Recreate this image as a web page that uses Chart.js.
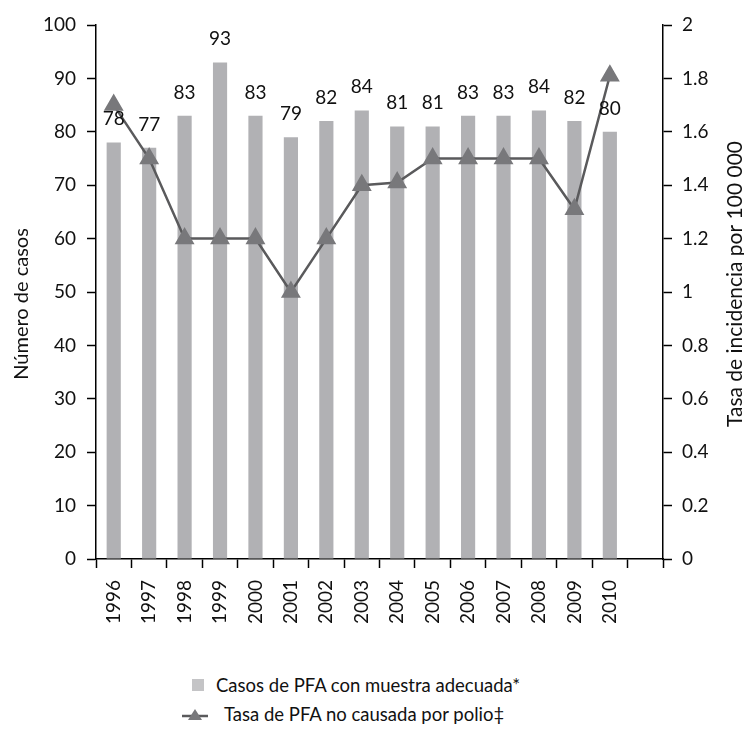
<!DOCTYPE html>
<html>
<head>
<meta charset="utf-8">
<script src="https://cdn.jsdelivr.net/npm/chart.js@4"></script>
<style>
  body { margin: 0; background: #fff; font-family: Lato, "Open Sans", sans-serif; }
  #wrap { position: relative; width: 744px; height: 730px; }
  #c { position: absolute; left: 0; top: 0; }
  .leg { position: absolute; font-size: 18.5px; color: #111; white-space: nowrap; }
  .sq { position: absolute; width: 12px; height: 12px; background: #c4c4c6; }
</style>
</head>
<body>
<div id="wrap">
  <canvas id="c" width="744" height="640"></canvas>
  <div class="sq" style="left:192px; top:679px;"></div>
  <div class="leg" style="left:216px; top:674px;">Casos de PFA con muestra adecuada*</div>
  <canvas id="lg" width="30" height="20" style="position:absolute; left:180px; top:705px;"></canvas>
  <div class="leg" style="left:224px; top:703px;">Tasa de PFA no causada por polio‡</div>
</div>
<script>
const years = ['1996', '1997', '1998', '1999', '2000', '2001', '2002', '2003', '2004', '2005', '2006', '2007', '2008', '2009', '2010', ''];
const casos = [78, 77, 83, 93, 83, 79, 82, 84, 81, 81, 83, 83, 84, 82, 80, null];
const tasa = [1.7, 1.5, 1.2, 1.2, 1.2, 1.0, 1.2, 1.4, 1.41, 1.5, 1.5, 1.5, 1.5, 1.31, 1.81, null];

const barColor = '#b1b1b4';
const lineColor = '#5a5a5c';
const markColor = '#78787b';
const fontFam = 'Lato, "Open Sans", sans-serif';

// value labels above the bars + axis titles (both read bottom to top)
const extras = {
  id: 'extras',
  afterDatasetsDraw(chart) {
    const ctx = chart.ctx;
    const meta = chart.getDatasetMeta(1);
    ctx.save();
    ctx.font = '19px ' + fontFam;
    ctx.fillStyle = '#111';
    ctx.textAlign = 'center';
    ctx.textBaseline = 'alphabetic';
    meta.data.forEach((bar, i) => {
      if (casos[i] == null) return;
      ctx.fillText(String(casos[i]), bar.x, bar.y - 17);
    });
    ctx.textBaseline = 'middle';
    ctx.font = '20px ' + fontFam;
    ctx.translate(22, 304);
    ctx.rotate(-Math.PI / 2);
    ctx.fillText('Número de casos', 0, 0);
    ctx.setTransform(1, 0, 0, 1, 0, 0);
    ctx.font = '21px ' + fontFam;
    ctx.translate(735, 284);
    ctx.rotate(-Math.PI / 2);
    ctx.fillText('Tasa de incidencia por 100 000', 0, 0);
    ctx.restore();
  }
};

new Chart(document.getElementById('c'), {
  data: {
    labels: years,
    datasets: [
      {
        type: 'line',
        label: 'Tasa de PFA no causada por polio‡',
        data: tasa,
        yAxisID: 'y2',
        borderColor: lineColor,
        borderWidth: 2.5,
        pointStyle: 'triangle',
        pointRadius: 9,
        pointBackgroundColor: markColor,
        pointBorderColor: markColor,
        tension: 0,
        order: 0
      },
      {
        type: 'bar',
        label: 'Casos de PFA con muestra adecuada*',
        data: casos,
        yAxisID: 'y',
        backgroundColor: barColor,
        categoryPercentage: 1,
        barPercentage: 0.4,
        order: 1
      }
    ]
  },
  options: {
    responsive: false,
    animation: false,
    layout: { padding: { top: 25, left: 0, right: 0, bottom: 0 } },
    plugins: { legend: { display: false }, tooltip: { enabled: false } },
    scales: {
      x: {
        grid: { display: true, drawOnChartArea: false, offset: true, color: '#000', tickLength: 9, tickWidth: 1.5 },
        border: { color: '#000', width: 1.5 },
        ticks: { color: '#111', font: { size: 19, family: fontFam }, minRotation: 90, maxRotation: 90, autoSkip: false, padding: 12 },
        afterFit(scale) { scale.height = 81; }
      },
      y: {
        position: 'left',
        min: 0, max: 100,
        ticks: { stepSize: 10, color: '#111', font: { size: 19, family: fontFam }, padding: 11 },
        grid: { drawOnChartArea: false, color: '#000', tickLength: 9, tickWidth: 1.5 },
        border: { color: '#000', width: 1.5 },
        afterFit(scale) { scale.width = 96; }
      },
      y2: {
        position: 'right',
        min: 0, max: 2,
        ticks: { stepSize: 0.2, color: '#111', font: { size: 19, family: fontFam }, padding: 10,
          callback: v => String(Math.round(v * 10) / 10) },
        grid: { drawOnChartArea: false, color: '#000', tickLength: 9, tickWidth: 1.5 },
        border: { color: '#000', width: 1.5 },
        afterFit(scale) { scale.width = 81; }
      }
    }
  },
  plugins: [extras]
});

// small legend symbol: line with triangle
const lc = document.getElementById('lg').getContext('2d');
lc.strokeStyle = lineColor;
lc.lineWidth = 2.5;
lc.beginPath(); lc.moveTo(2, 11); lc.lineTo(28, 11); lc.stroke();
lc.fillStyle = markColor;
lc.beginPath(); lc.moveTo(15, 4); lc.lineTo(22, 15); lc.lineTo(8, 15); lc.closePath(); lc.fill();
</script>
</body>
</html>
